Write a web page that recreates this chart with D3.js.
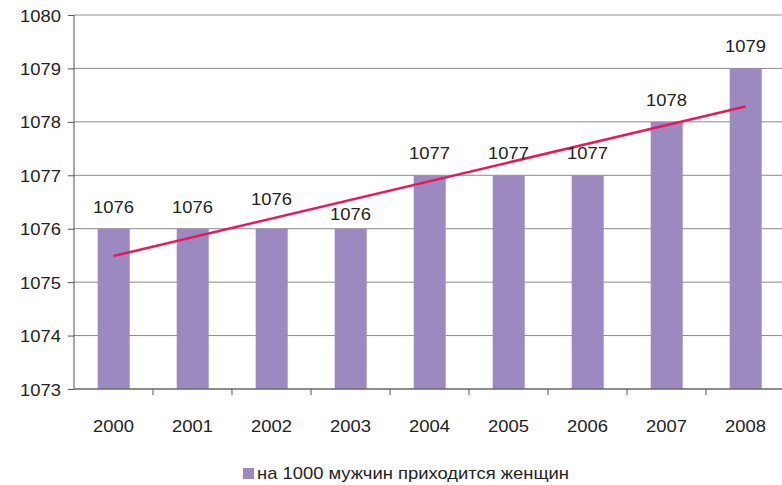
<!DOCTYPE html>
<html>
<head>
<meta charset="utf-8">
<script src="https://cdn.jsdelivr.net/npm/d3@7"></script>
<style>
  body { margin: 0; background: #fff; }
  text { font-family: "Liberation Sans", Arial, sans-serif; fill: #222; }
</style>
</head>
<body>
<svg id="chart" width="782" height="485"></svg>
<script>
// years on the x axis
var years = ['2000', '2001', '2002', '2003', '2004', '2005', '2006', '2007', '2008'];

// women per 1000 men
var values = [1076, 1076, 1076, 1076, 1077, 1077, 1077, 1078, 1079];

// y axis ticks
var yTicks = [1073, 1074, 1075, 1076, 1077, 1078, 1079, 1080];

var seriesName = 'на 1000 мужчин приходится женщин';

var barColor = '#9b89bf',
    lineColor = '#e8195b';

// source text is a bit wider than the font
var stretch = 1.15;

var svg = d3.select('#chart');

var margin = {left: 74, right: -3, top: 15, bottom: 96};
var width = 782 - margin.left - margin.right,
    height = 485 - margin.top - margin.bottom;

var g = svg.append('g')
    .attr('transform', 'translate(' + margin.left + ',' + margin.top + ')');

var x = d3.scaleBand()
    .domain(years)
    .range([0, width]);

var y = d3.scaleLinear()
    .domain([1073, 1080])
    .range([height, 0]);

// place text with horizontal stretch
function placeText(sel, xf, yf){
    sel.attr('transform', function(d, i){
        return 'translate(' + xf(d, i) + ',' + yf(d, i) + ') scale(' + stretch + ',1)';
    });
}

// gridlines
g.append('g')
    .selectAll('line')
    .data(yTicks)
    .enter().append('line')
        .attr('x1', 0)
        .attr('x2', width)
        .attr('y1', function(d){ return y(d); })
        .attr('y2', function(d){ return y(d); })
        .attr('stroke', '#8a8a8a')
        .attr('stroke-width', 1);

// bars
var step = x.step();
g.append('g')
    .selectAll('rect')
    .data(values)
    .enter().append('rect')
        .attr('x', function(d, i){ return x(years[i]) + step * 0.3; })
        .attr('width', step * 0.405)
        .attr('y', function(d){ return y(d); })
        .attr('height', function(d){ return height - y(d); })
        .attr('fill', barColor);

// y axis
var yAxis = g.append('g')
    .call(d3.axisLeft(y).tickValues(yTicks).tickFormat(d3.format('d')).tickSize(6));
yAxis.select('.domain').remove();
yAxis.append('line')
    .attr('x1', 0).attr('x2', 0)
    .attr('y1', 0).attr('y2', height)
    .attr('stroke', '#555');
yAxis.selectAll('.tick line').attr('stroke', '#555');
var yLabels = yAxis.selectAll('.tick text')
    .attr('x', null).attr('dy', null)
    .attr('font-size', 16)
    .attr('fill', '#222')
    .attr('font-family', '"Liberation Sans", Arial, sans-serif');
placeText(yLabels, function(){ return -13; }, function(){ return 6; });

// x axis with ticks between categories
var xAxis = g.append('g')
    .attr('transform', 'translate(0,' + height + ')');
xAxis.append('line')
    .attr('x1', 0).attr('x2', width)
    .attr('stroke', '#555');
xAxis.selectAll('.sep')
    .data(years.slice(1))
    .enter().append('line')
        .attr('class', 'sep')
        .attr('x1', function(d){ return x(d); })
        .attr('x2', function(d){ return x(d); })
        .attr('y1', 0).attr('y2', 6)
        .attr('stroke', '#555');
var xLabels = xAxis.selectAll('text')
    .data(years)
    .enter().append('text')
        .attr('text-anchor', 'middle')
        .attr('font-size', 16)
        .text(function(d){ return d; });
placeText(xLabels, function(d){ return x(d) + step / 2; }, function(){ return 43; });

// linear trend line (least squares)
var n = values.length;
var meanX = d3.mean(values, function(d, i){ return i; }),
    meanY = d3.mean(values);
var sxy = d3.sum(values, function(d, i){ return (i - meanX) * (d - meanY); }),
    sxx = d3.sum(values, function(d, i){ return (i - meanX) * (i - meanX); });
var slope = sxy / sxx,
    intercept = meanY - slope * meanX;

var trend = d3.line()
    .x(function(d){ return x(years[d]) + step / 2; })
    .y(function(d){ return y(intercept + slope * d); });

g.append('path')
    .datum([0, n - 1])
    .attr('d', trend)
    .attr('fill', 'none')
    .attr('stroke', lineColor)
    .attr('stroke-width', 2.5);

// value labels (two moved off the trend line, as in the source)
var nudge = {'2002': -8, '2003': 7};
var valLabels = g.append('g')
    .selectAll('text')
    .data(values)
    .enter().append('text')
        .attr('text-anchor', 'middle')
        .attr('font-size', 16)
        .text(function(d){ return d; });
placeText(valLabels,
    function(d, i){ return x(years[i]) + step / 2; },
    function(d, i){ return y(d) - 16 + (nudge[years[i]] || 0); });

// legend
var legend = svg.append('g')
    .attr('transform', 'translate(243,468)');
legend.append('rect')
    .attr('width', 11)
    .attr('height', 11)
    .attr('fill', barColor);
var legText = legend.append('text')
    .attr('font-size', 16)
    .text(seriesName);
placeText(legText, function(){ return 14; }, function(){ return 11; });
</script>
</body>
</html>
